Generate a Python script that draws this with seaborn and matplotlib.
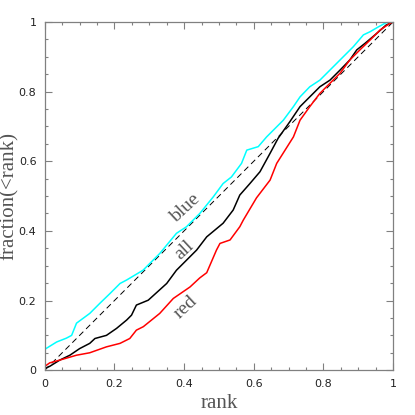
import pandas as pd
import matplotlib.pyplot as plt
import seaborn as sns
from matplotlib.ticker import MultipleLocator, FixedLocator, FixedFormatter

sns.set_theme(style='ticks')
plt.rcParams['font.family'] = ['DejaVu Sans']

# =====================================================
# DATA
# =====================================================
blue_x = [0, 0, 0.034, 0.062, 0.077, 0.091, 0.129, 0.158, 0.187, 0.216, 0.235, 0.282,
          0.330, 0.378, 0.407, 0.445, 0.484, 0.512, 0.536, 0.565, 0.580, 0.613, 0.637,
          0.685, 0.714, 0.733, 0.761, 0.790, 0.819, 0.857, 0.886, 0.915, 0.934, 0.958,
          0.980, 1.0]
blue_y = [0, 0.060, 0.081, 0.092, 0.100, 0.135, 0.163, 0.192, 0.220, 0.249, 0.259, 0.287,
          0.335, 0.393, 0.412, 0.450, 0.498, 0.536, 0.555, 0.594, 0.632, 0.642, 0.670,
          0.718, 0.757, 0.785, 0.814, 0.833, 0.862, 0.900, 0.929, 0.963, 0.972, 0.986,
          0.998, 1.0]

all_x = [0, 0.014, 0.043, 0.072, 0.100, 0.129, 0.144, 0.177, 0.206, 0.235, 0.249, 0.263,
         0.297, 0.350, 0.378, 0.436, 0.465, 0.512, 0.541, 0.560, 0.589, 0.618, 0.647,
         0.670, 0.704, 0.733, 0.752, 0.790, 0.819, 0.848, 0.876, 0.896, 0.920, 0.953,
         0.980, 1.0]
all_y = [0.005, 0.011, 0.029, 0.043, 0.062, 0.077, 0.091, 0.100, 0.120, 0.144, 0.158, 0.187,
         0.201, 0.249, 0.287, 0.345, 0.383, 0.422, 0.460, 0.503, 0.536, 0.570, 0.623,
         0.666, 0.714, 0.757, 0.776, 0.814, 0.833, 0.862, 0.891, 0.920, 0.939, 0.967,
         0.991, 1.0]

red_x = [0, 0, 0.014, 0.043, 0.091, 0.129, 0.177, 0.216, 0.244, 0.263, 0.283, 0.330,
         0.369, 0.417, 0.445, 0.465, 0.493, 0.503, 0.532, 0.560, 0.570, 0.608, 0.647,
         0.666, 0.714, 0.733, 0.761, 0.790, 0.819, 0.848, 0.876, 0.905, 0.934, 0.963,
         0.991, 1.0]
red_y = [0, 0.011, 0.021, 0.029, 0.043, 0.050, 0.067, 0.077, 0.091, 0.115, 0.125, 0.163,
         0.206, 0.239, 0.265, 0.280, 0.345, 0.364, 0.374, 0.412, 0.431, 0.495, 0.546,
         0.594, 0.670, 0.718, 0.757, 0.795, 0.824, 0.853, 0.891, 0.920, 0.948, 0.977,
         0.996, 1.0]

tick_vals = [0, 0.2, 0.4, 0.6, 0.8, 1.0]
tick_labels = ['0', '0.2', '0.4', '0.6', '0.8', '1']

curves = [
    ('blue', blue_x, blue_y, '#00ffff', (0.402, 0.466)),
    ('all', all_x, all_y, '#000000', (0.402, 0.345)),
    ('red', red_x, red_y, '#ff0000', (0.405, 0.181)),
]

# =====================================================
# PLOT
# =====================================================
fig = plt.figure(figsize=(4.15, 4.15), dpi=100)
ax = fig.add_axes([0.108, 0.108, 0.839, 0.839])

ax.plot([0, 1], [0, 1], color='black', lw=0.7, ls=(0, (6, 4)))

for name, xs, ys, col, pos in curves:
    df = pd.DataFrame({'x': xs, 'y': ys})
    sns.lineplot(ax=ax, data=df, x='x', y='y', color=col, lw=1.1,
                 sort=False, estimator=None)
    ax.text(pos[0], pos[1], name, rotation=43, ha='center', va='center',
            fontsize=14, color='#555555', family='Liberation Serif')

ax.set_xlim(0, 1)
ax.set_ylim(0, 1)
ax.xaxis.set_major_locator(FixedLocator(tick_vals))
ax.xaxis.set_major_formatter(FixedFormatter(tick_labels))
ax.yaxis.set_major_locator(FixedLocator(tick_vals))
ax.yaxis.set_major_formatter(FixedFormatter(tick_labels))
ax.xaxis.set_minor_locator(MultipleLocator(0.05))
ax.yaxis.set_minor_locator(MultipleLocator(0.05))

ax.tick_params(which='both', direction='in', top=True, right=True,
               color='#808080', width=0.8, labelsize=8, labelcolor='#222222')
ax.tick_params(which='major', length=5, pad=6)
ax.tick_params(which='minor', length=2.5)
for s in ax.spines.values():
    s.set_color('#808080')
    s.set_linewidth(0.9)

ax.set_xlabel('rank', fontsize=15, color='#555555', family='Liberation Serif', labelpad=4)
ax.set_ylabel('fraction(<rank)', fontsize=15, color='#555555', family='Liberation Serif')
ax.yaxis.set_label_coords(-0.075, 0.5)

fig.savefig('out.png', dpi=100)
plt.close()
